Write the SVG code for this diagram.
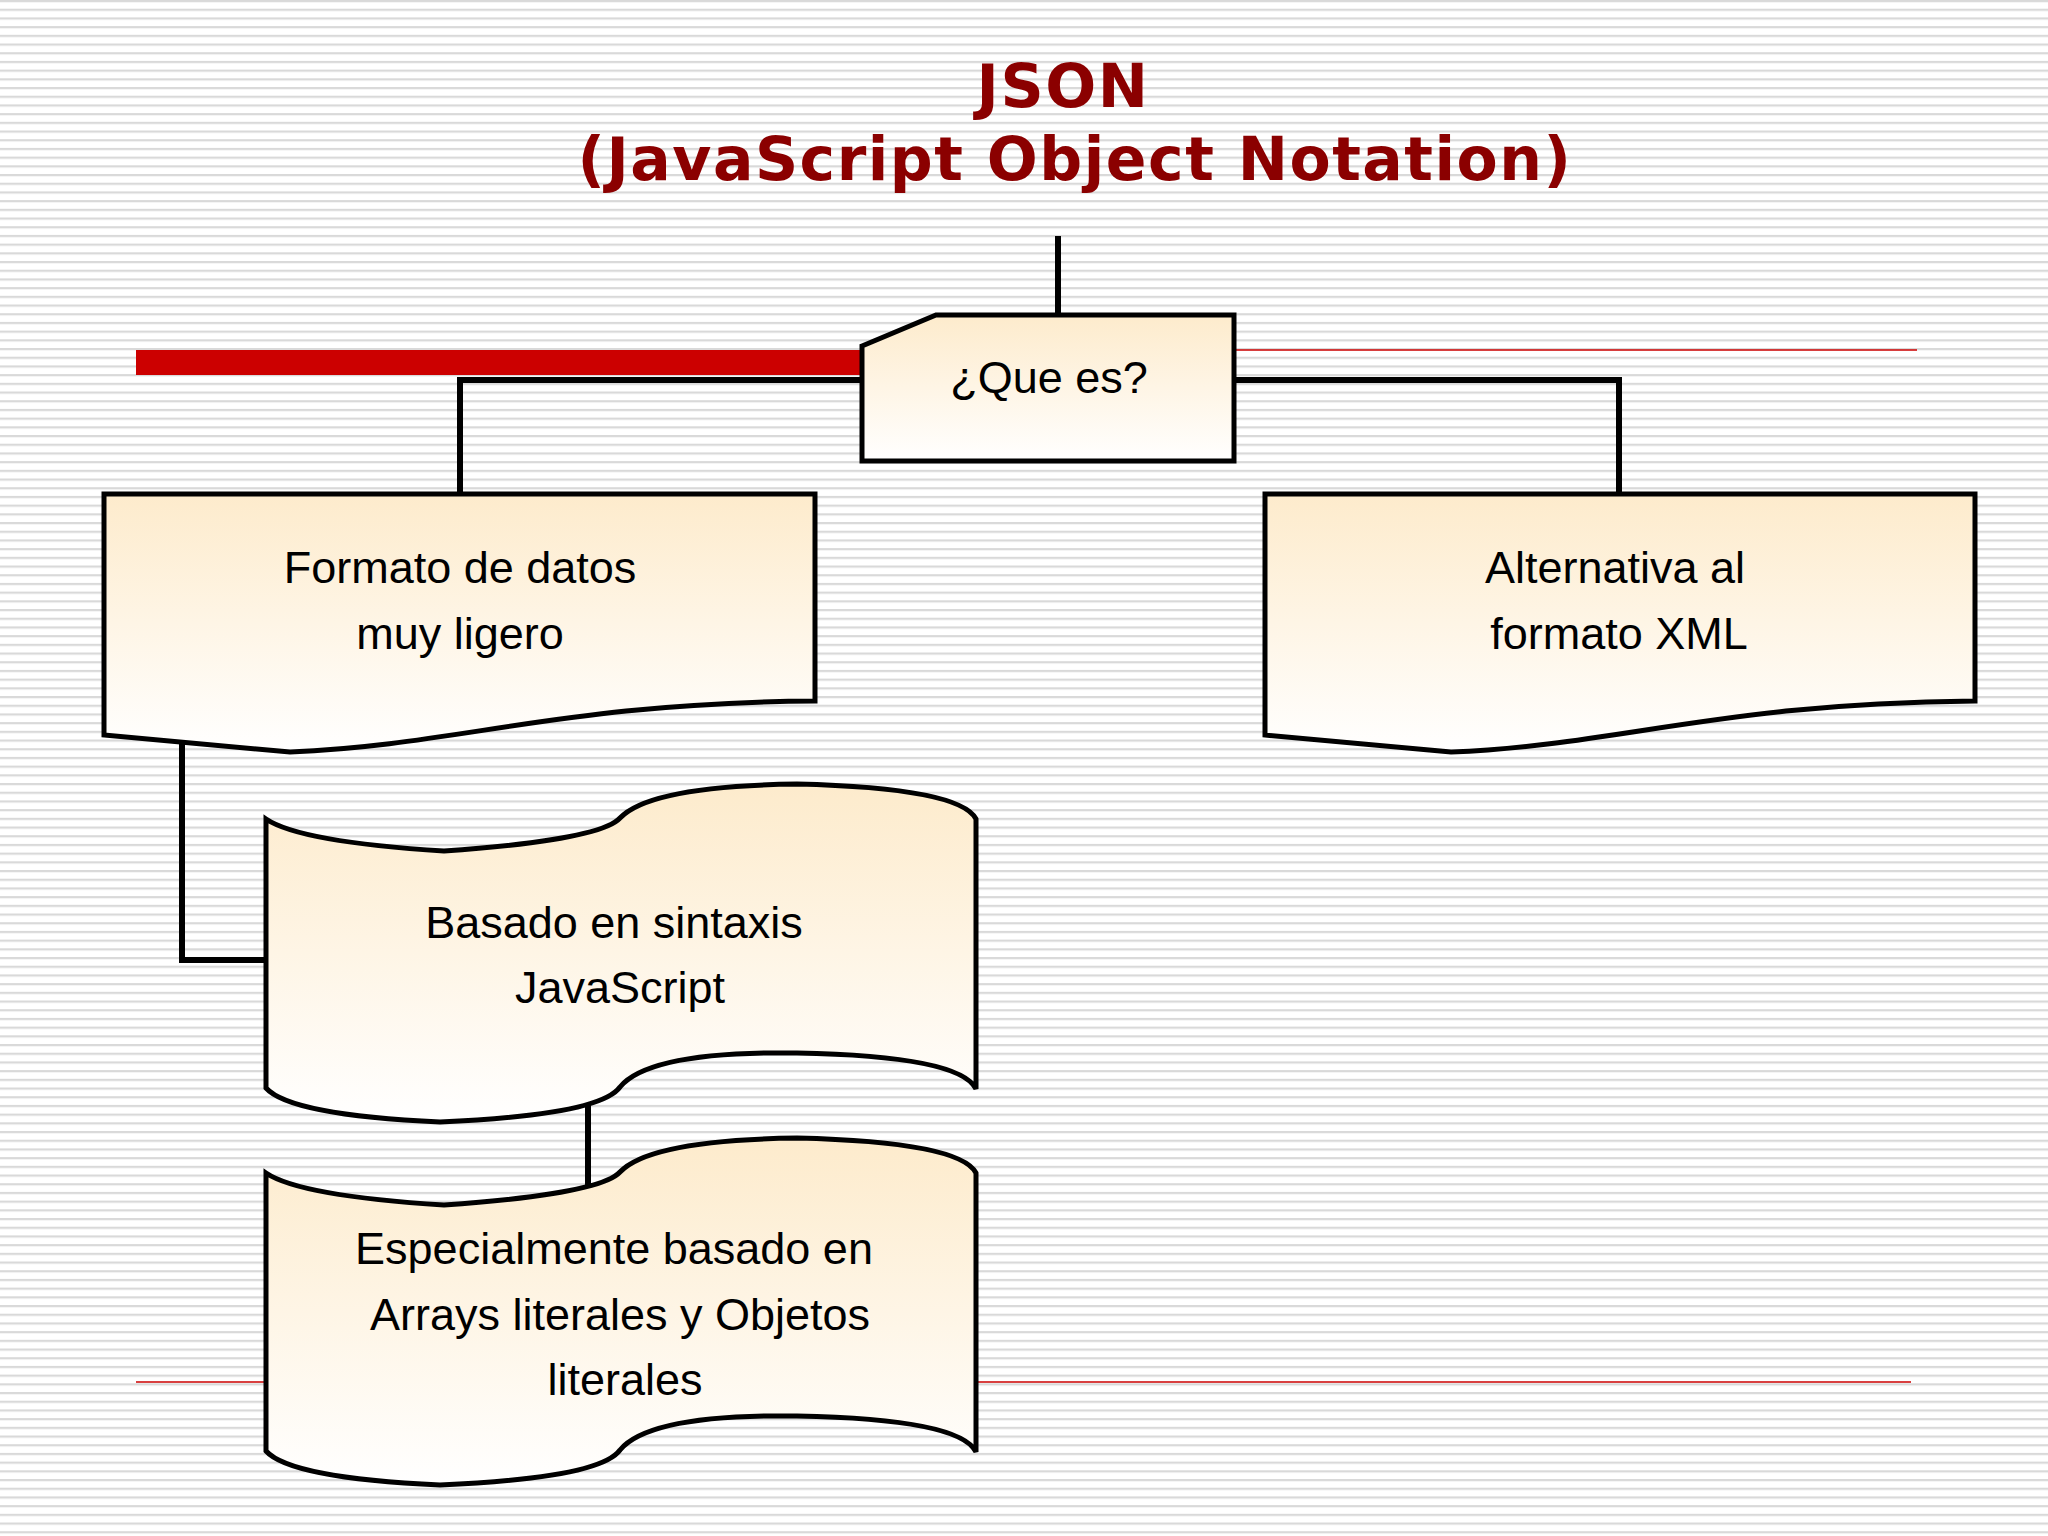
<svg xmlns="http://www.w3.org/2000/svg" width="2048" height="1536" viewBox="0 0 2048 1536">
<defs>
<pattern id="stripes" width="20" height="8.7" patternUnits="userSpaceOnUse">
<rect width="20" height="8.7" fill="#ffffff"/>
<rect y="0" width="20" height="2.2" fill="#d9d9d9"/>
</pattern>
<linearGradient id="fill" x1="0" y1="0" x2="0" y2="1">
<stop offset="0" stop-color="#fdebcc"/>
<stop offset="1" stop-color="#ffffff"/>
</linearGradient>
</defs>
<style>
.shape{fill:url(#fill);stroke:#000;stroke-width:5;stroke-linejoin:miter}
.conn{fill:none;stroke:#000;stroke-width:6}
.t{font-family:"Liberation Sans",Arial,sans-serif;font-size:45px;fill:#000;text-anchor:middle}
.title{font-family:"DejaVu Sans",Verdana,sans-serif;font-weight:bold;font-size:60px;letter-spacing:1.5px;fill:#8b0000;text-anchor:middle}
</style>
<rect width="2048" height="1536" fill="url(#stripes)"/>
<rect x="136" y="350" width="726" height="25" fill="#cc0000"/>
<line x1="1234" y1="350" x2="1917" y2="350" stroke="#cc0000" stroke-width="1.5"/>
<line x1="136" y1="1382" x2="1911" y2="1382" stroke="#cc0000" stroke-width="1.5"/>
<text class="title" x="1063" y="107">JSON</text>
<text class="title" x="1075" y="180">(JavaScript Object Notation)</text>
<g id="connectors">
<path class="conn" d="M1058,236 V315"/>
<path class="conn" d="M862,380 H460 V494"/>
<path class="conn" d="M1234,380 H1619 V494"/>
<path class="conn" d="M182,742 V960 H266"/>
<path class="conn" d="M588,1104 V1188"/>
</g>
<g id="que-es">
<path class="shape" d="M862,346 L936,315 H1234 V461 H862 Z"/>
<text class="t" x="1049" y="393">¿Que es?</text>
</g>
<g id="formato">
<path class="shape" d="M104,494 H815 V701 C560,703 460,745 290,752 L104,735 Z"/>
<text class="t" x="460" y="583">Formato de datos</text>
<text class="t" x="460" y="649">muy ligero</text>
</g>
<g id="alternativa">
<path class="shape" d="M1265,494 H1975 V701 C1720,703 1620,745 1451,752 L1265,735 Z"/>
<text class="t" x="1615" y="583">Alternativa al</text>
<text class="t" x="1619" y="649">formato XML</text>
</g>
<g id="basado">
<path class="shape" d="M266,819 Q300,842 444,851 Q600,840 620,818 Q650,786 797,784 Q960,788 976,819 V1089 Q960,1056 797,1053 Q650,1051 620,1087 Q600,1115 440,1122 Q290,1115 266,1088 Z"/>
<text class="t" x="614" y="938">Basado en sintaxis</text>
<text class="t" x="620" y="1003">JavaScript</text>
</g>
<g id="especialmente">
<path class="shape" d="M266,1173 Q300,1196 444,1205 Q600,1194 620,1172 Q650,1140 797,1138 Q960,1142 976,1173 V1452 Q960,1419 797,1416 Q650,1414 620,1450 Q600,1478 440,1485 Q290,1478 266,1451 Z"/>
<text class="t" x="614" y="1264">Especialmente basado en</text>
<text class="t" x="620" y="1330">Arrays literales y Objetos</text>
<text class="t" x="625" y="1395">literales</text>
</g>
</svg>
